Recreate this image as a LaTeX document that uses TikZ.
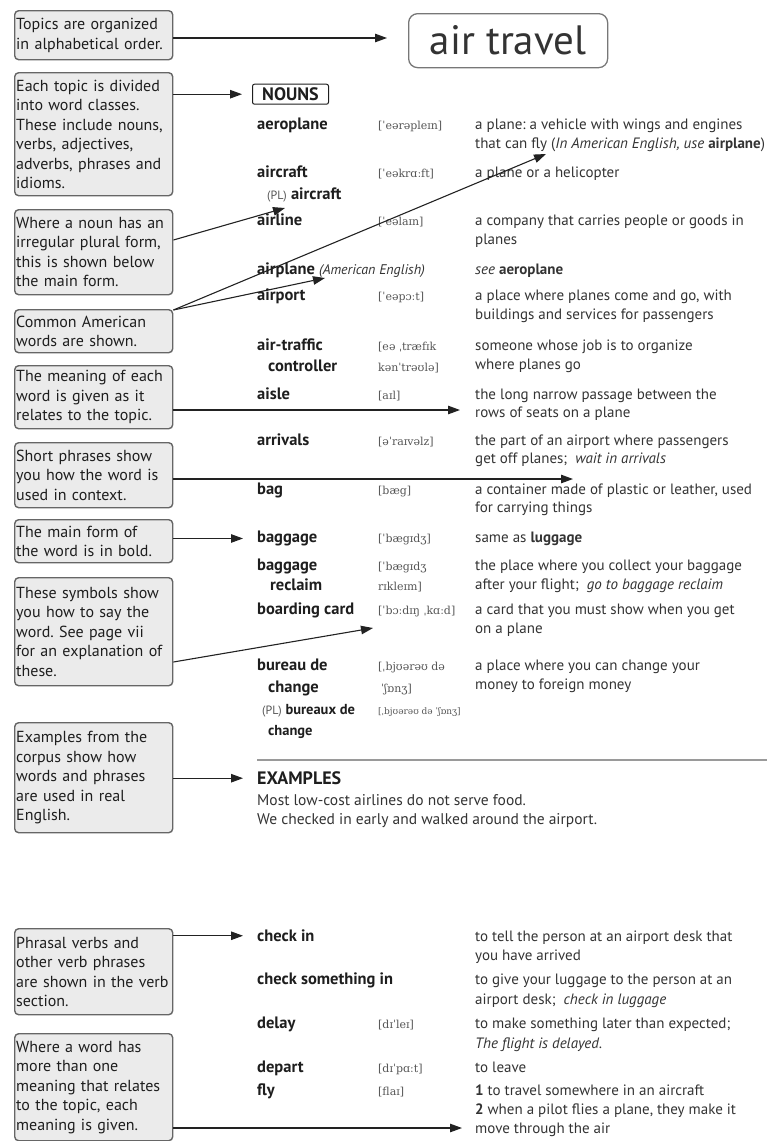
\documentclass[tikz,border=0pt]{standalone}
\usepackage{fontspec}
\setmainfont{PT Sans}
\newfontfamily\ipa{DejaVu Serif}
\usetikzlibrary{arrows.meta}
\frenchspacing
\definecolor{boxfill}{HTML}{EBEBEB}
\definecolor{boxline}{HTML}{666666}
\definecolor{ink}{HTML}{1E1E1E}
\definecolor{deftext}{HTML}{333333}
\definecolor{prontext}{HTML}{555555}
\definecolor{arrowc}{HTML}{222222}
\definecolor{rulec}{HTML}{9A9A9A}
\definecolor{titleline}{HTML}{777777}
\tikzset{
 notebox/.style={draw=boxline, fill=boxfill, line width=1.4pt, rounded corners=4pt, anchor=north west, text width=155pt, inner xsep=1.5pt, inner ysep=2pt, align=left, font=\frenchspacing\fontsize{16}{19.5}\selectfont, text=ink},
 hw/.style={anchor=mid west, inner sep=0pt, font=\bfseries\fontsize{16.5}{19}\selectfont, text=ink},
 pron/.style={anchor=mid west, inner sep=0pt, font=\ipa\fontsize{11}{13}\selectfont, text=prontext},
 defn/.style={anchor=mid west, inner sep=0pt, font=\fontsize{15}{18}\selectfont, text=deftext},
 arr/.style={draw=arrowc, line width=1.1pt, -{Triangle[length=12pt,width=8.5pt]}},
}
\begin{document}
\begin{tikzpicture}[x=1pt,y=-1pt]
\useasboundingbox (0,0) rectangle (767,1141);
% explanation boxes
\node[notebox, minimum height=49pt] (b1) at (14,10) {Topics are organized\\in alphabetical order.};
\node[notebox, minimum height=123pt] (b2) at (14,72) {Each topic is divided\\into word classes.\\These include nouns,\\verbs, adjectives,\\adverbs, phrases and\\idioms.};
\node[notebox, minimum height=85pt] (b3) at (14,209) {Where a noun has an\\irregular plural form,\\this is shown below\\the main form.};
\node[notebox, minimum height=43pt] (b4) at (14,309) {Common American\\words are shown.};
\node[notebox, minimum height=63pt] (b5) at (14,365) {The meaning of each\\word is given as it\\relates to the topic.};
\node[notebox, minimum height=65pt] (b6) at (14,442) {Short phrases show\\you how the word is\\used in context.};
\node[notebox, minimum height=43pt] (b7) at (14,519) {The main form of\\the word is in bold.};
\node[notebox, minimum height=108pt] (b8) at (14,577) {These symbols show\\you how to say the\\word. See page vii\\for an explanation of\\these.};
\node[notebox, minimum height=110pt] (b9) at (14,722) {Examples from the\\corpus show how\\words and phrases\\are used in real\\English.};
\node[notebox, minimum height=86pt] (b10) at (14,928) {Phrasal verbs and\\other verb phrases\\are shown in the verb\\section.};
\node[notebox, minimum height=107pt] (b11) at (14,1033) {Where a word has\\more than one\\meaning that relates\\to the topic, each\\meaning is given.};
% title
\node[draw=titleline, line width=1.3pt, rounded corners=9pt, minimum width=199pt, minimum height=54pt, anchor=north west, inner sep=0pt, text=deftext, font=\fontsize{41}{44}\selectfont] (title) at (408,13) {air travel};
% NOUNS
\node[draw=ink, line width=1pt, rounded corners=2pt, anchor=mid west, minimum width=76pt, minimum height=20pt, inner sep=1pt, text=ink, font=\bfseries\fontsize{18}{20}\selectfont] (nouns) at (252,98) {NOUNS};
% entries
\node[hw] (h1) at (257,127) {aeroplane};
\node[pron] (p1) at (378,127) {[ˈeərəpleɪn]};
\node[defn] (d1a) at (475,127) {a plane: a vehicle with wings and engines};
\node[defn] (d1b) at (475,146) {that can fly ({\itshape In American English, use} {\bfseries airplane})};
\node[hw] (h2) at (257,175) {aircraft};
\node[pron] (p2) at (378,175) {[ˈeəkrɑːft]};
\node[defn] (d2) at (475,175) {a plane or a helicopter};
\node[hw] (h2pl) at (267,197) {{\mdseries\color{prontext}\fontsize{12}{14}\selectfont(PL)} aircraft};
\node[hw] (h3) at (257,223) {airline};
\node[pron] (p3) at (378,223) {[ˈeəlaɪn]};
\node[defn] (d3a) at (475,223) {a company that carries people or goods in};
\node[defn] (d3b) at (475,242) {planes};
\node[hw] (h4) at (257,272) {airplane {\mdseries\itshape\color{deftext}\fontsize{14}{16}\selectfont(American English)}};
\node[defn] (d4) at (475,272) {{\itshape see} {\bfseries aeroplane}};
\node[hw] (h5) at (257,298) {airport};
\node[pron] (p5) at (378,298) {[ˈeəpɔːt]};
\node[defn] (d5a) at (475,298) {a place where planes come and go, with};
\node[defn] (d5b) at (475,317) {buildings and services for passengers};
\node[hw] (h6a) at (257,348) {air-traffic};
\node[hw] (h6b) at (268,369) {controller};
\node[pron] (p6a) at (378,348) {[eə ˌtræfɪk};
\node[pron] (p6b) at (378,369) {kənˈtrəʊlə]};
\node[defn] (d6a) at (475,348) {someone whose job is to organize};
\node[defn] (d6b) at (475,367) {where planes go};
\node[hw] (h7) at (257,397) {aisle};
\node[pron] (p7) at (378,397) {[aɪl]};
\node[defn] (d7a) at (475,397) {the long narrow passage between the};
\node[defn] (d7b) at (475,415) {rows of seats on a plane};
\node[hw] (h8) at (257,443) {arrivals};
\node[pron] (p8) at (378,443) {[əˈraɪvəlz]};
\node[defn] (d8a) at (475,443) {the part of an airport where passengers};
\node[defn] (d8b) at (475,461) {get off planes; \ {\itshape wait in arrivals}};
\node[hw] (h9) at (257,492) {bag};
\node[pron] (p9) at (378,492) {[bæg]};
\node[defn] (d9a) at (475,492) {a container made of plastic or leather, used};
\node[defn] (d9b) at (475,510) {for carrying things};
\node[hw] (h10) at (257,540) {baggage};
\node[pron] (p10) at (378,540) {[ˈbægɪdʒ]};
\node[defn] (d10) at (475,540) {same as {\bfseries luggage}};
\node[hw] (h11a) at (257,568) {baggage};
\node[hw] (h11b) at (270,588) {reclaim};
\node[pron] (p11a) at (378,568) {[ˈbægɪdʒ};
\node[pron] (p11b) at (378,588) {rɪkleɪm]};
\node[defn] (d11a) at (475,568) {the place where you collect your baggage};
\node[defn] (d11b) at (475,587) {after your flight; \ {\itshape go to baggage reclaim}};
\node[hw] (h12) at (257,612) {boarding card};
\node[pron] (p12) at (378,612) {[ˈbɔːdɪŋ ˌkɑːd]};
\node[defn] (d12a) at (475,612) {a card that you must show when you get};
\node[defn] (d12b) at (475,631) {on a plane};
\node[hw] (h13a) at (257,668) {bureau de};
\node[hw] (h13b) at (268,690) {change};
\node[pron] (p13a) at (378,668) {[ˌbjʊərəʊ də};
\node[pron] (p13b) at (381,690) {ˈʃɒnʒ]};
\node[defn] (d13a) at (475,668) {a place where you can change your};
\node[defn] (d13b) at (475,687) {money to foreign money};
\node[hw, font=\bfseries\fontsize{14.5}{16}\selectfont] (h13pl) at (262,712) {{\mdseries\color{prontext}\fontsize{12}{14}\selectfont(PL)} bureaux de};
\node[pron, font=\ipa\fontsize{9}{10}\selectfont] (p13pl) at (378,712) {[ˌbjʊərəʊ də ˈʃɒnʒ]};
\node[hw, font=\bfseries\fontsize{14.5}{16}\selectfont] (h13plb) at (268,733) {change};
% rule and examples
\draw[draw=rulec, line width=1.8pt] (257,760) -- (767,760);
\node[hw, font=\bfseries\fontsize{18}{20}\selectfont] (ex) at (257,782) {EXAMPLES};
\node[defn, font=\fontsize{15.5}{18}\selectfont] (ex1) at (257,803) {Most low-cost airlines do not serve food.};
\node[defn, font=\fontsize{15.5}{18}\selectfont] (ex2) at (257,822) {We checked in early and walked around the airport.};
% verbs
\node[hw] (v1) at (257,939) {check in};
\node[defn] (v1a) at (475,939) {to tell the person at an airport desk that};
\node[defn] (v1b) at (475,958) {you have arrived};
\node[hw] (v2) at (257,982) {check something in};
\node[defn] (v2a) at (475,982) {to give your luggage to the person at an};
\node[defn] (v2b) at (475,1002) {airport desk; \ {\itshape check in luggage}};
\node[hw] (v3) at (257,1026) {delay};
\node[pron] (vp3) at (378,1026) {[dɪˈleɪ]};
\node[defn] (v3a) at (475,1026) {to make something later than expected;};
\node[defn] (v3b) at (475,1046) {{\itshape The flight is delayed.}};
\node[hw] (v4) at (257,1070) {depart};
\node[pron] (vp4) at (378,1070) {[dɪˈpɑːt]};
\node[defn] (v4a) at (475,1070) {to leave};
\node[hw] (v5) at (257,1093) {fly};
\node[pron] (vp5) at (378,1093) {[flaɪ]};
\node[defn] (v5a) at (475,1093) {{\bfseries 1} to travel somewhere in an aircraft};
\node[defn] (v5b) at (475,1112) {{\bfseries 2} when a pilot flies a plane, they make it};
\node[defn] (v5c) at (475,1131) {move through the air};
% connectors
\coordinate (t1) at (387,38);
\draw[arr] (b1.east |- t1) -- (t1);
\draw[arr] (b2.east |- nouns.west) -- ([xshift=-10pt]nouns.west);
\coordinate (s3) at (0,240);
\coordinate (t3) at (285,208);
\draw[arr] (b3.east |- s3) -- (t3);
\coordinate (s4) at (0,310);
\coordinate (t4a) at (325,278);
\coordinate (t4b) at (546,154);
\draw[arr] (b4.east |- s4) -- (t4a);
\draw[arr] (b4.east |- s4) -- (t4b);
\coordinate (t5) at (460,410);
\draw[arr] (b5.east |- t5) -- (t5);
\coordinate (t6) at (573,479);
\draw[arr] (b6.east |- t6) -- (t6);
\draw[arr] (b7.east |- h10.west) -- ([xshift=-14pt]h10.west);
\coordinate (s8) at (0,662);
\coordinate (t8) at (373,628);
\draw[arr] (b8.east |- s8) -- (t8);
\draw[arr] (b9.east |- ex.west) -- ([xshift=-14pt]ex.west);
\draw[arr] (b10.east |- v1.west) -- ([xshift=-14pt]v1.west);
\coordinate (t11) at (462,1128);
\draw[arr] (b11.east |- t11) -- (t11);
\end{tikzpicture}
\end{document}
